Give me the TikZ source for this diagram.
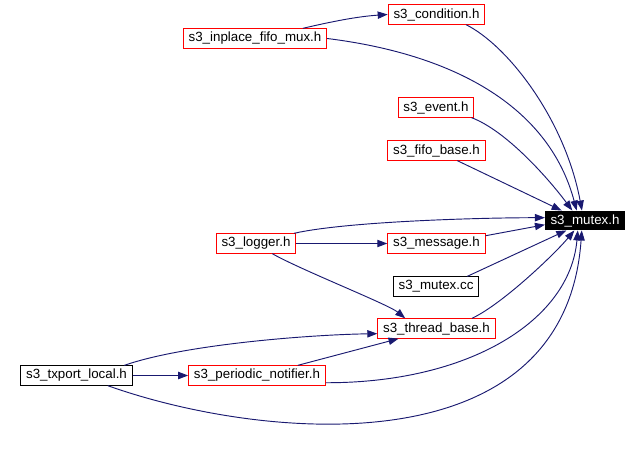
\documentclass[tikz,border=0pt]{standalone}
\usepackage{fontspec}
\setmainfont{Liberation Sans}
\usetikzlibrary{arrows.meta}
\definecolor{depblue}{RGB}{25,25,112}

\begin{document}
\begin{tikzpicture}[x=0.75pt, y=-0.75pt, >={Triangle[length=7.5pt,width=5.5pt]},
  every node/.style={font=\fontsize{10}{12}\selectfont, inner xsep=4pt, inner ysep=2pt, minimum height=14.5pt},
  hdr/.style={draw=red, line width=0.75pt},
  src/.style={draw=black, line width=0.75pt},
  cur/.style={fill=black, text=white},
  dep/.style={->, draw=depblue, line width=0.7pt}]
\useasboundingbox (0,0) rectangle (641,466);
% files
\node[hdr] (cond) at (436.5,14.5) {s3\_condition.h};
\node[hdr] (mux) at (255,38.5) {s3\_inplace\_fifo\_mux.h};
\node[hdr] (event) at (436,107.5) {s3\_event.h};
\node[hdr] (fifo) at (436.5,150.5) {s3\_fifo\_base.h};
\node[cur] (mutexh) at (585,220.5) {s3\_mutex.h};
\node[hdr] (logger) at (256,243.5) {s3\_logger.h};
\node[hdr] (msg) at (436.5,243.5) {s3\_message.h};
\node[src] (mutexcc) at (436,286.5) {s3\_mutex.cc};
\node[hdr] (thread) at (436.5,328.5) {s3\_thread\_base.h};
\node[src] (txport) at (76.5,375.5) {s3\_txport\_local.h};
\node[hdr] (notif) at (257,375.5) {s3\_periodic\_notifier.h};
% dependencies
\draw[dep] (mux.12) .. controls +(30,-7) and +(-30,2) .. (cond.west);
\draw[dep] (mux.east) .. controls (460,55) and (550,110) .. (mutexh.130);
\draw[dep] (cond.-19) .. controls +(42,21) and +(-17,-91) .. (mutexh.107);
\draw[dep] (event.-16) .. controls +(35,13) and +(-23,-31) .. (mutexh.142);
\draw[dep] (fifo.-26) -- (mutexh.157);
\draw[dep] (logger.15) .. controls +(53,-12) and +(-64,0) .. (mutexh.176);
\draw[dep] (logger.east) -- (msg.west);
\draw[dep] (logger.-32) .. controls +(28,16) and +(-17,-14) .. (thread.162);
\draw[dep] (msg.9) -- (mutexh.186);
\draw[dep] (mutexcc.18) -- (mutexh.208);
\draw[dep] (thread.16) .. controls +(30,-14) and +(-20,24) .. (mutexh.223);
\draw[dep] (txport.12) .. controls +(60,-21) and +(-67,1) .. (thread.185);
\draw[dep] (txport.east) -- (notif.west);
\draw[dep] (notif.14) -- (thread.195);
\draw[dep] (notif.-6) .. controls (470,383) and (570,320) .. (mutexh.234);
\draw[dep] (txport.-18) .. controls (260,440) and (565,470) .. (mutexh.252);
\end{tikzpicture}
\end{document}
